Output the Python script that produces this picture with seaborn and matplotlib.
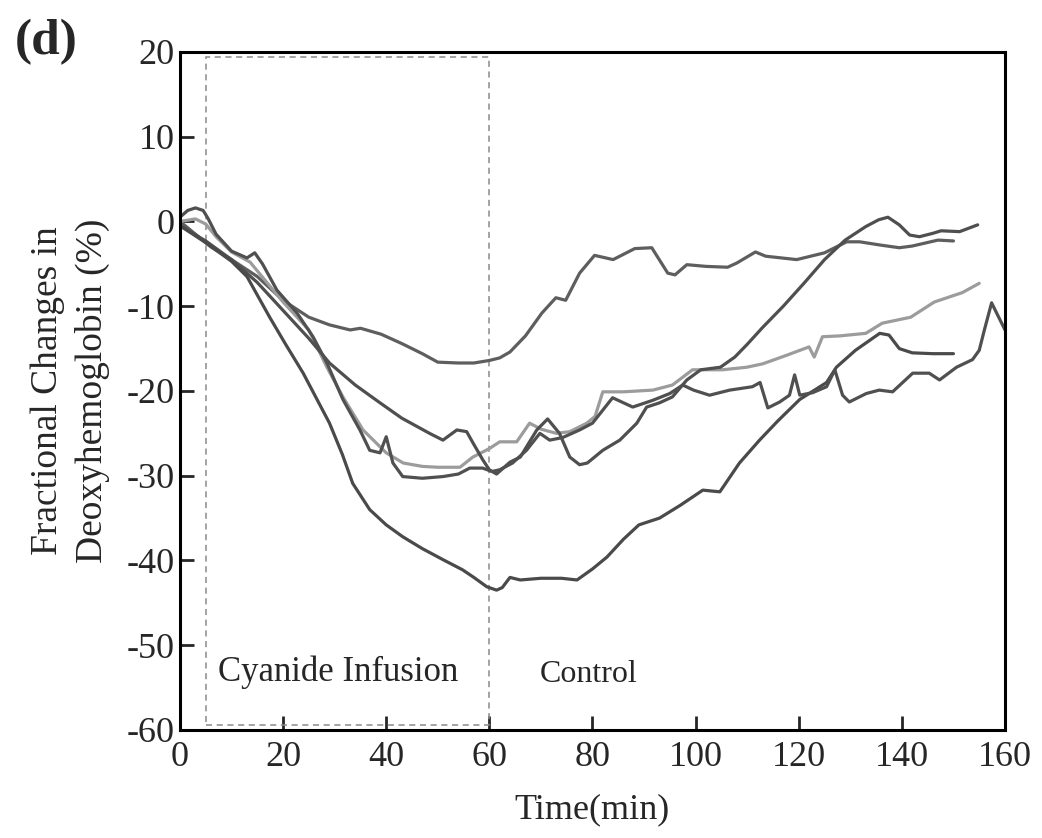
import pandas as pd
import seaborn as sns
import matplotlib.pyplot as plt
from matplotlib.patches import Rectangle

# time (min) and fractional change (%) for each trace
a_time = [0, 3, 6, 10, 15, 20, 25, 29, 33, 35, 39, 43, 47, 50, 54, 57, 60, 62, 64, 67, 70.2,
          72.9, 74.8, 77.5, 80.4, 84, 88.2, 91.5, 94.6, 96, 98.3, 102, 106.2, 108, 111.6, 113.6,
          119.6, 125, 129.3, 131.8, 136, 139.5, 142, 147, 150]
a_val = [0, -1.5, -3, -4.5, -6.5, -9.3, -11.3, -12.2, -12.8, -12.6, -13.3, -14.4, -15.6, -16.6,
         -16.7, -16.7, -16.4, -16.1, -15.4, -13.5, -10.8, -9, -9.3, -6.1, -4, -4.5, -3.2, -3.1,
         -6.1, -6.3, -5.1, -5.3, -5.4, -4.9, -3.6, -4.1, -4.5, -3.7, -2.4, -2.4, -2.8, -3.1, -2.9,
         -2.2, -2.3]

b_time = [0, 3, 5, 7, 10, 13.6, 17, 20, 25, 28.5, 31.6, 35.5, 40, 43.3, 47, 50, 54.3, 56.8, 60,
          62, 65.3, 67.8, 70, 73, 75.6, 78.9, 80.5, 82, 86, 91.7, 95.5, 99.4, 105.2, 109.9, 113,
          117.6, 122, 123, 124.6, 128, 133, 136.2, 141.7, 146.3, 151.7, 155]
b_val = [0, 0.3, -0.3, -1.8, -3.6, -4.8, -7.3, -9.5, -12.8, -17.2, -20.7, -24.6, -27.3, -28.5,
         -28.9, -29, -29, -27.8, -26.8, -26, -26, -23.8, -24.5, -25, -24.8, -23.8, -23, -20.1,
         -20.1, -19.9, -19.3, -17.5, -17.5, -17.2, -16.8, -15.8, -14.8, -16, -13.6, -13.5, -13.2,
         -12, -11.3, -9.5, -8.4, -7.3]

c_time = [0, 5, 10, 15, 20, 25, 29, 34, 38.8, 43, 48.4, 51, 53.7, 55.6, 56.8, 58.7, 60, 61.4, 64,
          66, 69.2, 71.3, 73.6, 75.6, 77.5, 79, 82, 85.3, 88.6, 90.5, 93, 95.5, 98.3, 101, 104.8,
          107.6, 110, 113, 117, 121, 125, 129, 133, 135.5, 137.3, 139.5, 141.5, 143.4, 146, 147.6,
          151.2, 154.7]
c_val = [-0.5, -2.3, -4.5, -7.2, -10.5, -13.8, -16.7, -19.3, -21.4, -23.2, -25, -25.8, -24.6,
         -24.8, -26.1, -28.1, -29.3, -29.8, -28.4, -27.8, -24.6, -23.3, -25, -27.8, -28.7, -28.5,
         -27, -25.8, -23.8, -21.9, -21.4, -20.7, -18.7, -17.5, -17.2, -16, -14.5, -12.5, -10,
         -7.3, -4.5, -2.2, -0.6, 0.2, 0.5, -0.4, -1.6, -1.8, -1.4, -1.1, -1.2, -0.4]

d_time = [0, 5, 10, 13, 17.4, 20.5, 23.9, 29, 31.5, 33.5, 36.8, 40, 43.2, 47, 51, 54.8, 57, 59.5,
          61.4, 62.5, 64, 66, 70, 74, 77, 80, 82.8, 86, 89, 93, 97, 101.4, 104.7, 108.5, 112.4,
          116, 120.2, 125.4, 127.3, 131, 135.7, 137.5, 139.5, 142, 146, 150]
d_val = [-0.5, -2.5, -4.7, -6.5, -11.3, -14.5, -17.9, -23.8, -27.5, -30.9, -34, -35.8, -37.2,
         -38.6, -39.9, -41.1, -42, -43.1, -43.5, -43.2, -42, -42.3, -42.1, -42.1, -42.3, -41,
         -39.6, -37.5, -35.8, -35, -33.5, -31.7, -31.9, -28.5, -25.8, -23.5, -21, -19, -17.2,
         -15.2, -13.2, -13.4, -15, -15.5, -15.6, -15.6]

e_time = [0, 1.5, 3, 4.5, 5.5, 7, 10, 13, 14.5, 16, 18.8, 22.7, 25.8, 28.5, 31.6, 34.9, 36.8,
          38.8, 40, 41.3, 43.2, 47, 51, 54, 56.2, 58.7, 60.5, 62, 64.5, 67.2, 69.8, 71.7, 74.2,
          77.5, 80, 83.9, 87.8, 91.7, 95, 97.5, 99.6, 102.7, 106.6, 111, 112.5, 114, 116.3, 118.2,
          119.2, 120.2, 122.7, 125.4, 127, 128.5, 129.8, 133.1, 135.6, 138.2, 142.1, 145.3, 147.3,
          150.6, 153.7, 155, 156, 157.4, 160]
e_val = [0.5, 1.3, 1.6, 1.3, 0.3, -1.5, -3.5, -4.3, -3.7, -5, -8.1, -10.8, -13.6, -16.7, -21,
         -24.6, -27, -27.3, -25.4, -28.5, -30.1, -30.3, -30.1, -29.8, -29.1, -29.1, -29.5, -29.3,
         -28.5, -27, -25, -25.8, -25.5, -24.6, -23.8, -20.8, -21.9, -21.1, -20.3, -19.3, -19.9,
         -20.5, -19.9, -19.5, -19, -22, -21.3, -20.5, -18.1, -20.5, -20.2, -19.5, -17.5, -20.5,
         -21.3, -20.3, -19.9, -20.1, -17.9, -17.9, -18.7, -17.2, -16.3, -15.2, -12.8, -9.6, -12.8]

traces = {
    "A": (a_time, a_val),
    "B": (b_time, b_val),
    "C": (c_time, c_val),
    "D": (d_time, d_val),
    "E": (e_time, e_val),
}
palette = {"A": "#5e5e5e", "B": "#9c9c9c", "C": "#4f4f4f", "D": "#4a4a4a", "E": "#505050"}

x_ticks = [0, 20, 40, 60, 80, 100, 120, 140, 160]
y_ticks = [20, 10, 0, -10, -20, -30, -40, -50, -60]
infusion_start, infusion_end = 5, 60

frames = [pd.DataFrame({"time": t, "value": v, "trace": name}) for name, (t, v) in traces.items()]
df = pd.concat(frames, ignore_index=True)

sns.set_style("ticks")
plt.rcParams["font.family"] = ["Liberation Serif", "DejaVu Serif"]
plt.rcParams["axes.unicode_minus"] = False

fig = plt.figure(figsize=(10.42, 8.38), dpi=100)
ax = fig.add_axes([0.1727, 0.1289, 0.7918, 0.8091])

sns.lineplot(data=df, x="time", y="value", hue="trace", palette=palette, estimator=None,
             sort=False, linewidth=2.3, legend=False, ax=ax)

# dashed box marking the infusion period
ax.add_patch(Rectangle((infusion_start, -59.4), infusion_end - infusion_start, 78.8,
                       fill=False, ls=(0, (4, 3)), lw=1.1, ec="#8a8a8a", zorder=1))

ax.text(7.3, -53.2, "Cyanide Infusion", fontsize=25, va="center", ha="left")
ax.text(69.8, -53.4, "Control", fontsize=23, va="center", ha="left")

ax.set_xlim(0, 160)
ax.set_ylim(-60, 20)
ax.set_xticks(x_ticks)
ax.set_yticks(y_ticks)
ax.tick_params(direction="in", length=10, width=2, labelsize=26, pad=4)
ax.tick_params(axis="x", pad=8)
for sp in ax.spines.values():
    sp.set_linewidth(2.2)
    sp.set_color("black")

ax.set_xlabel("Time(min)", fontsize=26, labelpad=14)
ax.set_ylabel("Fractional Changes in\nDeoxyhemoglobin (%)", fontsize=27, labelpad=12,
              linespacing=1.35)

fig.text(0.014, 0.935, "(d)", fontsize=37, fontweight="bold")

fig.savefig("out.png", dpi=100)
plt.close(fig)
